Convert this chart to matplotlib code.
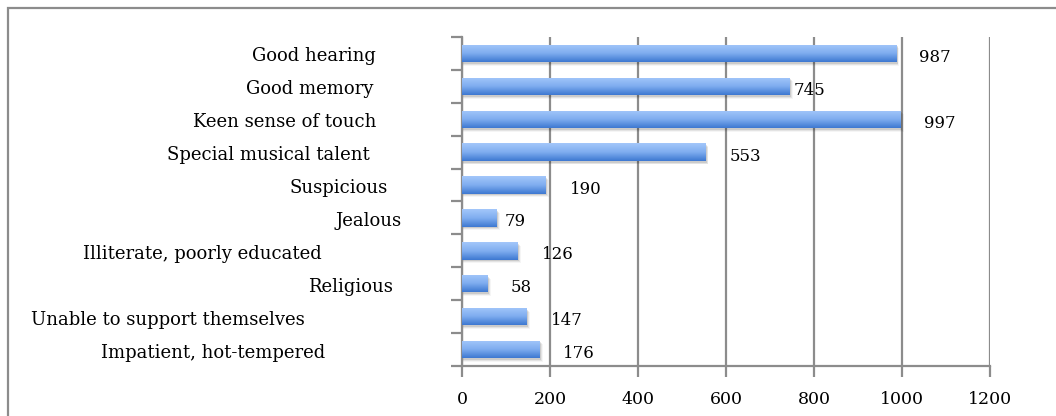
import numpy as np
import matplotlib.pyplot as plt
from matplotlib.patches import Rectangle

categories = [
    "Good hearing",
    "Good memory",
    "Keen sense of touch",
    "Special musical talent",
    "Suspicious",
    "Jealous",
    "Illiterate, poorly educated",
    "Religious",
    "Unable to support themselves",
    "Impatient, hot-tempered",
]
counts = [987, 745, 997, 553, 190, 79, 126, 58, 147, 176]
xticks = [0, 200, 400, 600, 800, 1000, 1200]

# distance (px) from the axis to the right edge of each category label
label_gap = [86, 89, 86, 92, 74, 60, 140, 69, 157, 137]
# horizontal gap (px) between bar end and its value label
value_gap = [23, 4, 23, 24, 24, 8, 24, 23, 24, 23]

plt.rcParams['font.family'] = ['DejaVu Serif']

fig = plt.figure(figsize=(10.56, 4.16), dpi=100)
ax = fig.add_axes([462 / 1056, 1 - 366 / 416, (990 - 462) / 1056, (366 - 37) / 416])

# outer chart frame
fig.patches.append(Rectangle((7.5 / 1056, -0.1), 1.2, 1.1 - 7.5 / 416,
                             transform=fig.transFigure, fill=False,
                             edgecolor='#8c8c8c', linewidth=1.6, zorder=0))

n = len(categories)
bar_h = 0.53

# vertical gradient, light on top, darker below
grad = np.linspace(0, 1, 64).reshape(-1, 1)
top = np.array([0.64, 0.78, 0.98])
mid = np.array([0.50, 0.68, 0.94])
bot = np.array([0.24, 0.47, 0.82])
cols = np.where(grad[..., None] < 0.5,
                top + (mid - top) * (grad[..., None] / 0.5),
                mid + (bot - mid) * ((grad[..., None] - 0.5) / 0.5))

for i, v in enumerate(counts):
    # soft drop shadow
    for k, a in enumerate([0.10, 0.07, 0.04]):
        ax.add_patch(Rectangle((0, i - bar_h / 2 + 0.05 + 0.03 * k), v + 3 + 2 * k, bar_h,
                               facecolor='black', alpha=a, edgecolor='none', zorder=2))
    r = Rectangle((0, i - bar_h / 2), v, bar_h, facecolor='none', edgecolor='none', zorder=3)
    ax.add_patch(r)
    im = ax.imshow(cols, extent=(0, v, i + bar_h / 2, i - bar_h / 2), aspect='auto',
                   interpolation='bilinear', zorder=3)
    im.set_clip_path(r)
    ax.annotate(str(v), xy=(v, i), xytext=(value_gap[i], -4), textcoords='offset pixels',
                ha='left', va='center', fontsize=12, color='black')
    ax.annotate(categories[i], xy=(0, i), xytext=(-label_gap[i], -3), textcoords='offset pixels',
                ha='right', va='center', fontsize=13, color='black', annotation_clip=False)

ax.set_xlim(0, 1200)
ax.set_ylim(n - 0.5, -0.5)
ax.set_xticks(xticks)
ax.set_xticklabels([str(t) for t in xticks], fontsize=12.5)
ax.set_yticks(np.arange(n + 1) - 0.5)
ax.set_yticklabels([])
ax.grid(axis='x', color='#8c8c8c', linewidth=1.6, zorder=1)
ax.set_axisbelow(True)
for s in ['top', 'right']:
    ax.spines[s].set_visible(False)
for s in ['left', 'bottom']:
    ax.spines[s].set_color('#8c8c8c')
    ax.spines[s].set_linewidth(1.6)
ax.tick_params(axis='both', color='#8c8c8c', width=1.6, length=8)
ax.tick_params(axis='x', pad=10)

fig.savefig('out.png', dpi=100)
